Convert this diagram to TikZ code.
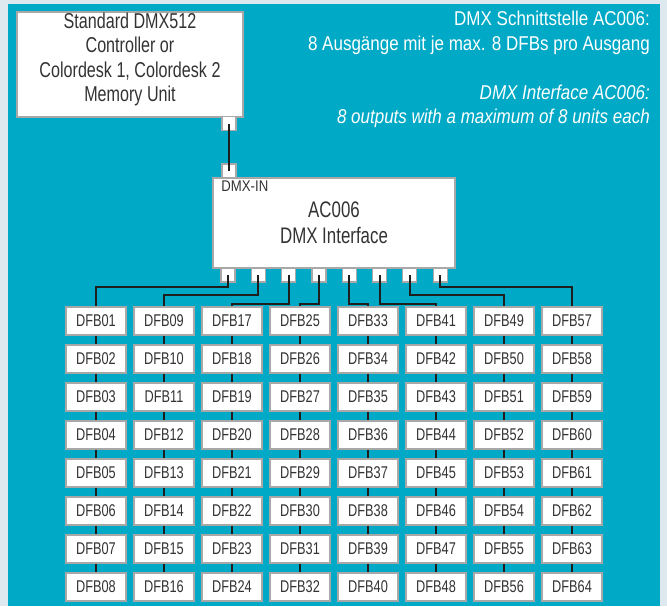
\documentclass[tikz,border=0pt]{standalone}
\usepackage{fontspec}
\setmainfont{Liberation Sans}[FakeStretch=0.75]
\newfontfamily\notefont{Liberation Sans}[FakeStretch=0.85]
\usepackage{xcolor}
\usepackage{tikz}
\usetikzlibrary{positioning}

\definecolor{panel}{HTML}{00A9C5}
\definecolor{margin}{HTML}{DDE9EF}
\definecolor{frame}{HTML}{A8A8A8}
\definecolor{ink}{HTML}{333333}
\definecolor{wire}{HTML}{1E1E1E}

\begin{document}
\begin{tikzpicture}[
  x=1pt, y=-1pt,
  devbox/.style ={draw=frame, fill=white, line width=1.5pt, rectangle,
                  inner sep=0pt, align=center, text=ink},
  port/.style   ={draw=frame, fill=white, line width=1.2pt, rectangle,
                  minimum size=14pt, inner sep=0pt},
  dfb/.style    ={devbox, minimum width=60pt, minimum height=28pt,
                  font=\fontsize{17}{20}\selectfont},
  link/.style   ={draw=wire, line width=2pt},
  info/.style   ={text=white, align=right, anchor=north east, inner sep=0pt,
                  font=\notefont\fontsize{20}{24.5}\selectfont}
]

%% ── Background ───────────────────────────────────────────────────────
\fill[margin] (0,0) rectangle (667,606);
\fill[panel]  (8,4) rectangle (660,606);
\useasboundingbox (0,0) rectangle (667,606);

%% ── Controller ───────────────────────────────────────────────────────
\node[devbox, minimum width=226pt, minimum height=105pt] (ctrl) at (130,64.5) {};
\node[text=ink, align=center, inner sep=0pt, yshift=5pt,
      font=\fontsize{21.5}{24.5}\selectfont] (ctrltxt) at (ctrl.center)
    {Standard DMX512\\Controller or\\Colordesk 1, Colordesk 2\\Memory Unit};
\node[port] (ctrlout) at (229,123.5) {};

%% ── AC006 interface ──────────────────────────────────────────────────
\node[devbox, minimum width=242pt, minimum height=90pt,
      font=\fontsize{22.5}{26}\selectfont] (ifc) at (334,223)
    {AC006\\DMX Interface};
\node[anchor=north west, inner sep=0pt, text=ink,
      font=\notefont\fontsize{15.5}{18}\selectfont] (dmxin) at ([xshift=9pt,yshift=-3pt]ifc.north west) {DMX-IN};
\node[port] (ifcin) at (229,171) {};

\foreach \i in {1,...,8}
  \node[port] (out\i) at ({228+30.3*(\i-1)},275) {};

\draw[link] (ctrlout.center) -- (ifcin.center);

%% ── DFB units, 8 per output ──────────────────────────────────────────
\foreach \c in {0,...,7}{
  \foreach \r in {0,...,7}{
    \pgfmathtruncatemacro\num{\c*8+\r+1}
    \node[dfb] (dfb-\c-\r) at ({96+68*\c},{321+38*\r})
      {DFB\ifnum\num<10 0\fi\num};
  }
  \foreach \r [count=\s] in {0,...,6}
    \draw[link] (dfb-\c-\r.south) -- (dfb-\c-\s.north);
}

%% ── Outputs to the first unit of each line ───────────────────────────
\foreach \i/\drop in {1/12, 2/20, 3/29, 4/29, 5/29, 6/29, 7/20, 8/12}{
  \pgfmathtruncatemacro\c{\i-1}
  \draw[link] (out\i.center) -- ++(0,\drop) -| (dfb-\c-0.north);
}

%% ── Notes ────────────────────────────────────────────────────────────
\node[info] (infode) at (650,11)
    {DMX Schnittstelle AC006:\\8 Ausgänge mit je max. 8 DFBs pro Ausgang};
\node[info, font=\notefont\fontsize{20}{23.5}\selectfont\itshape] (infoen) at (650,85)
    {DMX Interface AC006:\\8 outputs with a maximum of 8 units each};

\end{tikzpicture}
\end{document}
